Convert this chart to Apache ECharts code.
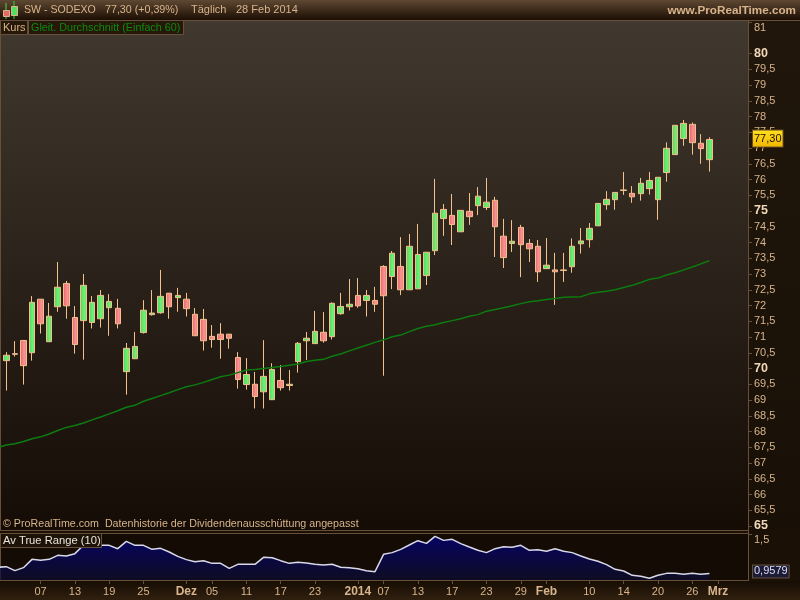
<!DOCTYPE html>
<html>
<head>
<meta charset="utf-8">
<title>SW - SODEXO</title>
<style>html,body{margin:0;padding:0;background:#1a1006}#chart{width:800px;height:600px}</style>
<script src="https://cdn.jsdelivr.net/npm/echarts@6/dist/echarts.min.js"></script>
</head>
<body>
<div id="chart"></div>
<script>
var dates = ['31.10','01.11','04.11','05.11','06.11','07.11','08.11','11.11','12.11','13.11','14.11','15.11','18.11','19.11','20.11','21.11','22.11','25.11','26.11','27.11','28.11','29.11',
  '02.12','03.12','04.12','05.12','06.12','09.12','10.12','11.12','12.12','13.12','16.12','17.12','18.12','19.12','20.12','23.12','24.12','27.12','30.12','31.12',
  '02.01','03.01','06.01','07.01','08.01','09.01','10.01','13.01','14.01','15.01','16.01','17.01','20.01','21.01','22.01','23.01','24.01','27.01','28.01','29.01','30.01','31.01',
  '03.02','04.02','05.02','06.02','07.02','10.02','11.02','12.02','13.02','14.02','17.02','18.02','19.02','20.02','21.02','24.02','25.02','26.02','27.02','28.02',
  '03.03','04.03','05.03','06.03'];
var tickDates = ['07.11','13.11','19.11','25.11','02.12','05.12','11.12','17.12','23.12','02.01','07.01','13.01','17.01','23.01','29.01','03.02','10.02','14.02','20.02','26.02','03.03'];
var tickLabels = ['07','13','19','25','Dez','05','11','17','23','2014','07','13','17','23','29','Feb','10','14','20','26','Mrz'];
var boldLabels = ['Dez','2014','Feb','Mrz'];

// one value per session, 01.11 to 28.02
var opens = [70.25,70.47,70.89,70.50,72.20,70.85,71.96,72.70,71.62,71.52,71.46,71.58,71.93,71.91,69.90,70.31,71.14,71.71,71.77,72.39,72.25,72.20,71.72,71.56,71.02,71.09,71.09,70.35,69.49,69.50,69.26,69.01,69.62,69.46,70.22,70.88,70.79,71.15,71.01,71.74,71.96,72.32,72.16,72.16,73.24,72.92,73.24,72.50,72.53,72.95,73.74,74.76,74.86,74.34,74.99,75.17,75.11,75.34,74.20,73.97,74.48,73.97,73.88,73.17,73.13,73.11,73.23,73.96,74.09,74.53,75.20,75.36,75.65,75.56,75.55,75.71,75.36,76.22,76.79,77.30,77.75,77.15,76.63];
var closes = [70.42,70.45,70.09,72.10,71.42,71.66,72.58,71.99,70.76,72.64,72.10,72.32,72.13,71.42,70.64,70.70,71.85,71.76,72.29,71.96,72.32,71.90,71.04,70.88,70.92,70.92,70.96,69.65,69.81,69.11,69.75,69.97,69.39,69.50,70.80,70.96,71.18,70.88,72.07,71.97,72.04,71.99,72.32,72.04,72.31,73.66,72.50,73.88,73.62,73.69,74.93,75.05,74.57,75.02,74.82,75.47,75.28,74.50,73.52,74.04,73.93,73.80,73.07,73.28,73.07,73.13,73.88,74.05,74.45,75.24,75.37,75.59,75.67,75.45,75.88,75.97,76.07,76.99,77.72,77.78,77.17,76.98,77.27];
var lows = [69.30,70.38,69.49,70.25,71.11,70.85,71.80,71.58,70.47,70.28,71.27,71.30,71.04,71.27,69.17,70.31,71.11,71.68,71.74,71.58,71.80,71.65,71.04,70.57,70.66,70.31,70.63,69.36,69.33,68.73,68.73,69.01,69.30,69.30,69.87,70.27,70.79,70.82,70.92,71.71,71.84,71.93,71.65,71.80,69.77,72.52,72.33,72.50,72.53,72.65,73.60,74.21,73.92,74.34,74.56,74.87,75.03,73.54,73.19,73.70,72.90,73.38,72.75,73.17,72.02,72.75,73.04,73.65,73.84,74.53,75.04,75.04,75.51,75.26,75.33,75.52,74.72,75.93,76.79,77.07,76.79,76.50,76.25];
var highs = [70.52,70.87,70.89,72.30,72.20,72.08,73.38,72.78,71.98,73.00,72.30,72.49,72.36,72.21,70.81,71.16,72.17,72.49,73.13,72.39,72.56,72.40,71.92,71.89,71.38,71.44,71.09,70.52,70.33,69.89,70.90,70.17,70.11,69.95,70.84,71.16,71.83,71.79,72.10,72.40,72.84,72.87,72.49,72.59,73.28,73.73,74.17,74.27,74.59,73.69,76.02,75.22,75.54,75.02,75.57,75.76,76.05,75.45,74.75,74.71,74.56,74.11,74.08,74.14,73.67,73.67,74.13,74.46,74.62,75.24,75.63,75.59,76.24,75.79,76.05,76.24,76.07,77.18,77.72,77.89,77.81,77.44,77.34];

// these two start one session earlier, 31.10
var ma60 = [67.49,67.57,67.61,67.68,67.77,67.83,67.92,68.03,68.13,68.19,68.27,68.37,68.46,68.56,68.66,68.77,68.83,68.96,69.05,69.14,69.23,69.33,69.42,69.48,69.56,69.65,69.74,69.79,69.87,69.95,69.97,70.00,70.03,70.06,70.10,70.14,70.22,70.26,70.29,70.39,70.46,70.56,70.65,70.74,70.83,70.91,71.01,71.06,71.17,71.27,71.34,71.39,71.46,71.52,71.58,71.66,71.71,71.82,71.87,71.93,71.99,72.06,72.12,72.15,72.19,72.22,72.26,72.27,72.28,72.37,72.42,72.45,72.50,72.57,72.64,72.73,72.83,72.87,72.97,73.04,73.13,73.22,73.32,73.42];
var atr = [1.044,1.053,0.998,1.039,1.153,1.140,1.153,1.208,1.199,1.231,1.345,1.345,1.345,1.345,1.299,1.400,1.345,1.345,1.290,1.304,1.254,1.194,1.149,1.121,1.135,1.098,1.098,1.030,1.085,1.085,1.085,1.181,1.176,1.135,1.098,1.112,1.103,1.085,1.076,1.085,1.044,1.039,1.025,0.998,0.984,1.222,1.245,1.290,1.350,1.409,1.372,1.468,1.413,1.427,1.368,1.322,1.277,1.245,1.299,1.327,1.318,1.345,1.277,1.286,1.263,1.299,1.263,1.245,1.199,1.158,1.126,1.080,1.016,0.993,0.934,0.920,0.893,0.934,0.961,0.961,0.948,0.961,0.948,0.958];

var lastClose = 77.30;
var lastAtr = 0.9579;

var fontName = '"Liberation Sans", Arial, sans-serif';
var tan = '#d8b48c';
var frame = '#66503a';

function vgrad(a, b) {
  return new echarts.graphic.LinearGradient(0, 0, 0, 1, [{offset: 0, color: a}, {offset: 1, color: b}]);
}
function hgrad(a, b, c) {
  return new echarts.graphic.LinearGradient(0, 0, 1, 0, [{offset: 0, color: a}, {offset: 0.6, color: b}, {offset: 1, color: c}]);
}
function comma(v) { return String(v).replace('.', ','); }
function rect(x, y, w, h, fill, stroke, z) {
  var style = {fill: fill, lineWidth: 1};
  if (stroke) style.stroke = stroke;
  return {type: 'rect', shape: {x: x, y: y, width: w, height: h}, style: style, z: z || 0, silent: true};
}
function label(x, y, text, fill, size, weight, align) {
  return {type: 'text', x: x, y: y, z: 20, silent: true,
    style: {text: text, fill: fill, font: (weight || 'normal') + ' ' + size + 'px ' + fontName, textAlign: align || 'left', textVerticalAlign: 'middle'}};
}

var candleData = [['-', '-', '-', '-']];
for (var i = 0; i < opens.length; i++) {
  candleData.push([opens[i], closes[i], lows[i], highs[i]]);
}
function isTick(index, value) { return tickDates.indexOf(value) >= 0; }

var option = {
  animation: false,
  backgroundColor: '#1a1006',
  textStyle: {fontFamily: fontName},
  graphic: [
    // panels
    rect(0, 0, 800, 20, vgrad('#5e4832', '#1c0e04')),
    rect(0, 20, 800, 1, frame),
    rect(748, 21, 52, 509, vgrad('#20160c', '#181006')),
    rect(1, 21, 747, 509, vgrad('#41382f', '#140c05')),
    rect(0, 20, 1, 580, frame),
    rect(0, 530, 749, 1, frame),
    rect(0, 531, 800, 2, '#1a1006'),
    rect(0, 533, 749, 1, frame, null, 5),
    rect(1, 534, 747, 46, '#140c04'),
    rect(0, 580, 749, 1, frame, null, 5),
    rect(0, 581, 800, 19, vgrad('#170d04', '#30200f')),
    rect(748, 20, 1, 561, frame, null, 5),
    // header
    rect(5.5, 3, 1, 16, '#50d050', null, 21),
    rect(3.5, 10.5, 6, 6, '#e86868', '#d8b48c', 21),
    rect(13.5, 1, 1, 18, '#30d040', null, 21),
    rect(11.5, 6.5, 6, 9, '#50e060', '#d8b48c', 21),
    label(24, 10, 'SW - SODEXO', tan, 10.6),
    label(105, 10, '77,30 (+0,39%)', tan, 10.7),
    label(191, 10, 'Täglich', tan, 11),
    label(236, 10, '28 Feb 2014', tan, 11),
    label(796, 11, 'www.ProRealTime.com', tan, 11.7, 'bold', 'right'),
    // legends
    rect(0.5, 20.5, 27, 14, '#261808', frame, 15),
    rect(28.5, 20.5, 155, 14, '#261808', frame, 15),
    label(3, 28, 'Kurs', tan, 11),
    label(31, 28, 'Gleit. Durchschnitt (Einfach 60)', '#0b8a10', 10.8),
    label(3, 524, '© ProRealTime.com  Datenhistorie der Dividendenausschüttung angepasst', tan, 10.7),
    rect(0.5, 533.5, 101, 14, '#1c1208', frame, 15),
    label(3, 541, 'Av True Range (10)', '#ece4da', 11.2)
  ],
  grid: [
    {left: -6.57, right: 52, top: 22, height: 504, outerBoundsMode: 'none'},
    {left: -6.57, right: 52, top: 533, height: 47, outerBoundsMode: 'none'}
  ],
  xAxis: [
    {type: 'category', gridIndex: 0, data: dates, boundaryGap: true, show: false},
    {
      type: 'category', gridIndex: 1, data: dates, boundaryGap: true,
      axisLine: {show: false},
      axisTick: {show: true, interval: isTick, alignWithLabel: true, length: 4, lineStyle: {color: frame}},
      axisLabel: {
        interval: isTick, margin: 6, color: tan, fontSize: 11, hideOverlap: false,
        formatter: function (value) {
          var text = tickLabels[tickDates.indexOf(value)];
          return boldLabels.indexOf(text) >= 0 ? '{b|' + text + '}' : text;
        },
        rich: {b: {fontWeight: 'bold', fontSize: 12, color: tan}}
      }
    }
  ],
  yAxis: [
    {
      type: 'value', gridIndex: 0, position: 'right', min: 65, max: 81, interval: 0.5, scale: true,
      splitLine: {show: false},
      axisLine: {show: false},
      axisTick: {show: true, length: 4, lineStyle: {color: frame}},
      axisLabel: {
        margin: 6, color: tan, fontSize: 11, verticalAlignMaxLabel: 'top', showMaxLabel: true, showMinLabel: true,
        formatter: function (v) {
          return v % 5 === 0 ? '{b|' + comma(v) + '}' : comma(v);
        },
        rich: {b: {fontWeight: 'bold', fontSize: 12.5, color: '#f0d8b8'}}
      }
    },
    {
      type: 'value', gridIndex: 1, position: 'right', min: 0.87, max: 1.514,
      splitLine: {show: false},
      axisLine: {show: false},
      axisTick: {show: true, length: 4, customValues: [1.5], lineStyle: {color: frame}},
      axisLabel: {
        margin: 6, color: tan, fontSize: 11, customValues: [1.5], verticalAlign: 'top',
        formatter: function (v) { return comma(v); }
      }
    }
  ],
  series: [
    {
      name: 'Kurs', type: 'candlestick', xAxisIndex: 0, yAxisIndex: 0, barWidth: 6, z: 3,
      data: candleData,
      itemStyle: {
        color: hgrad('#46d85a', '#74ee74', '#5ae06a'),
        color0: hgrad('#e85c62', '#f89496', '#ee7478'),
        borderColor: '#f4c08c',
        borderColor0: '#f4c08c',
        borderWidth: 1
      }
    },
    {
      name: 'Gleit. Durchschnitt', type: 'line', xAxisIndex: 0, yAxisIndex: 0, z: 4,
      data: ma60, symbol: 'none', lineStyle: {color: '#0c7c10', width: 1.5},
      markLine: {
        silent: true, symbol: 'none', animation: false,
        lineStyle: {color: 'rgba(0,0,0,0)', width: 0},
        data: [{yAxis: lastClose}],
        label: {
          position: 'end', distance: 5, formatter: '77,30', color: '#201000', fontSize: 11,
          fontFamily: fontName, backgroundColor: vgrad('#ffe020', '#f0b800'),
          borderColor: '#6a4f20', borderWidth: 1, padding: [3, 1, 2, 1]
        }
      }
    },
    {
      name: 'Av True Range', type: 'line', xAxisIndex: 1, yAxisIndex: 1, z: 3,
      data: atr, symbol: 'none', lineStyle: {color: '#d8d8ea', width: 1.5},
      areaStyle: {color: vgrad('#00008a', '#0c0c30'), origin: 'start'},
      markLine: {
        silent: true, symbol: 'none', animation: false,
        lineStyle: {color: 'rgba(0,0,0,0)', width: 0},
        data: [{yAxis: lastAtr}],
        label: {
          position: 'end', distance: 5, offset: [0, -2], formatter: '0,9579', color: '#dcdcf0', fontSize: 11,
          fontFamily: fontName, backgroundColor: '#1c1c38',
          borderColor: frame, borderWidth: 1, padding: [1, 1, 0, 1]
        }
      }
    }
  ]
};

var myChart = echarts.init(document.getElementById('chart'));
myChart.setOption(option);
</script>
</body>
</html>
